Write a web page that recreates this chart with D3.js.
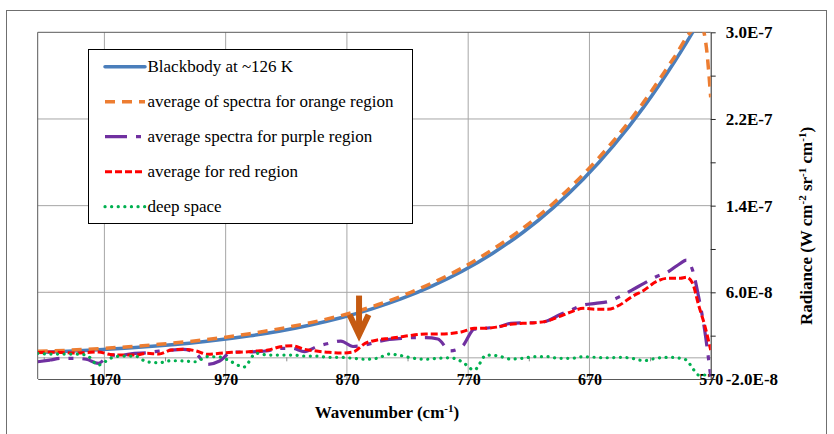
<!DOCTYPE html>
<html>
<head>
<meta charset="utf-8">
<script src="https://cdn.jsdelivr.net/npm/d3@7"></script>
</head>
<body style="margin:0">
<script>
// all radiance values below are in units of 1e-9 W cm-2 sr-1 cm-1
var UNIT = 1e-9;

// blackbody curve
var bbWave = [1125, 1100, 1075, 1050, 1025, 1000, 975, 950, 925, 900, 875, 850, 825, 800, 775, 750, 725, 700, 675, 650, 625, 600, 590, 585];
var blackbody = [4.47, 5.56, 6.91, 8.56, 10.59, 13.08, 16.14, 19.85, 24.37, 29.88, 36.52, 44.55, 54.17, 65.75, 79.5, 95.9, 115.2, 138.0, 164.6, 195.7, 231.4, 272.6, 290.5, 299.8];

// orange region average
var orWave = [1125, 1100, 1075, 1050, 1025, 1000, 975, 950, 925, 900, 875, 850, 825, 800, 775, 750, 725, 700, 675, 650, 625, 600, 585, 578, 574, 570];
var orange = [5.5, 6.5, 8.0, 9.8, 12.0, 14.6, 17.8, 21.8, 26.5, 32.0, 38.5, 46.5, 56.5, 68.5, 82.5, 99.5, 119, 142, 169, 200, 236, 277, 302, 306, 290, 240];

// purple, red and deep space share one wavenumber grid
var lowWave = [1125, 1115, 1105, 1095, 1085, 1075, 1065, 1055, 1045, 1035, 1025, 1015, 1005, 995, 985, 975, 965, 955, 945, 935,
               925, 915, 905, 895, 885, 875, 865, 855, 845, 835, 825, 815, 805, 795, 785, 775, 765, 755, 745, 735,
               725, 715, 705, 695, 685, 675, 665, 655, 645, 635, 625, 615, 605, 595, 590, 585, 580, 575, 570];
var purple = [-4.1, -2.5, -0.9, -0.9, -1.8, -5.5, 2.1, 2.1, 3.7, 4.2, 5.8, 6.7, 7.4, 4.0, -6.5, -3.4, 4.9, 4.9, 5.2, 6.1,
              8.3, 8.3, 5.2, 9.8, 12.9, 15.0, 10.0, 11.4, 14.4, 16.6, 17.5, 18.1, 18.1, 16.9, 6.0, 10.0, 26.0, 27.0, 28.2, 31.4,
              31.9, 31.9, 33.5, 39.0, 43.7, 48.3, 49.8, 51.3, 56.0, 62.0, 68.3, 74.4, 79.0, 86.8, 89.8, 80.6, 56.0, 25.2, -18.0];
var red = [4.4, 4.9, 4.4, 4.0, 4.4, 4.9, 2.6, 2.1, 2.1, 3.7, 3.0, 6.7, 7.4, 6.1, 2.8, 3.7, 4.6, 4.9, 5.8, 6.7,
           9.8, 10.7, 7.4, 5.8, 4.6, 4.0, 4.9, 12.9, 16.0, 17.5, 19.0, 20.6, 21.5, 21.5, 22.0, 23.6, 26.8, 26.8, 28.2, 30.5,
           31.4, 31.9, 33.5, 37.5, 42.0, 45.2, 44.3, 44.3, 48.3, 56.0, 62.0, 69.8, 73.0, 73.0, 74.0, 68.5, 48.3, 29.8, 6.7];
var deepSpace = [3.7, 3.0, 3.0, 3.0, 2.1, -7.1, -0.9, 1.2, 1.2, -4.1, -5.0, -3.1, -3.4, -4.1, 0.6, 0.3, -4.3, -9.0, 3.7, 2.1,
                 2.1, 2.1, 1.2, 1.2, 0, 0, -0.9, -1.8, -0.9, 3.0, 1.5, -0.9, -1.8, -0.9, -0.4, -4.1, -11.7, 2.1, 1.2, -1.6,
                 -0.9, 0.6, 0.6, -0.9, -0.9, 0.6, 0, -0.4, 0, -0.9, -3.1, -0.9, 0, -0.9, -2.5, -10.0, -16.3, -16.3, -18.0];

// axis ticks
var waveTicks = [1070, 970, 870, 770, 670, 570];
var zeroTicks = [1120, 1020, 920, 820, 720, 620];
var radTicks = [-2e-8, 6e-8, 1.4e-7, 2.2e-7, 3e-7];
var radMinor = [2e-8, 1e-7, 1.8e-7, 2.6e-7];

// arrow pointing at the dip near 860 cm-1
var arrowWave = 860;
var arrowTop = 57;
var arrowTip = 19;

// layout
var width = 834, height = 434;
var plot = { left: 37.7, right: 710.7, top: 32.3, bottom: 379 };
var FONT = "'Liberation Serif'";

var svg = d3.select("body").append("svg")
    .attr("width", width)
    .attr("height", height);

// outer chart frame
svg.append("rect")
    .attr("x", 6.5).attr("y", 10.5)
    .attr("width", 820).attr("height", 440)
    .attr("fill", "none")
    .attr("stroke", "#6f6f6f");

var x = d3.scaleLinear().domain([1125, 570]).range([plot.left, plot.right]);
var y = d3.scaleLinear().domain([-2e-8, 3e-7]).range([plot.bottom, plot.top]);

// gridlines
svg.append("g").selectAll("line")
    .data(waveTicks.slice(0, -1))
    .enter().append("line")
    .attr("x1", d => x(d)).attr("x2", d => x(d))
    .attr("y1", plot.top).attr("y2", plot.bottom)
    .attr("stroke", "#a6a6a6").attr("stroke-width", 1);

svg.append("g").selectAll("line")
    .data([6e-8, 1.4e-7, 2.2e-7])
    .enter().append("line")
    .attr("x1", plot.left).attr("x2", plot.right)
    .attr("y1", d => y(d)).attr("y2", d => y(d))
    .attr("stroke", "#a6a6a6").attr("stroke-width", 1);

// horizontal axis line at zero
var zeroAxis = svg.append("g")
    .attr("transform", "translate(0," + y(0) + ")")
    .call(d3.axisBottom(x).tickValues(zeroTicks).tickSize(4).tickSizeOuter(0).tickFormat(""));
zeroAxis.select(".domain").attr("stroke", "#a6a6a6");
zeroAxis.selectAll(".tick line").attr("stroke", "#8c8c8c");

// plot border (top and left)
svg.append("line")
    .attr("x1", plot.left).attr("x2", plot.right)
    .attr("y1", plot.top).attr("y2", plot.top)
    .attr("stroke", "#595959");
svg.append("line")
    .attr("x1", plot.left).attr("x2", plot.left)
    .attr("y1", plot.top).attr("y2", plot.bottom)
    .attr("stroke", "#595959");

// bottom axis with wavenumber labels
var xAxis = svg.append("g")
    .attr("transform", "translate(0," + plot.bottom + ")")
    .call(d3.axisBottom(x).tickValues(waveTicks).tickSize(0).tickSizeOuter(0).tickPadding(-5).tickFormat(d3.format("d")));
xAxis.style("font-family", FONT);
xAxis.select(".domain").attr("stroke", "#595959");
xAxis.selectAll("text")
    .style("font-family", FONT)
    .attr("font-size", "16px")
    .attr("font-weight", "bold")
    .attr("fill", "#000");

// right axis
var fmt = function(d) { return d.toExponential(1).toUpperCase(); };
var yAxis = svg.append("g")
    .attr("transform", "translate(" + plot.right + ",0)")
    .call(d3.axisRight(y).tickValues(radTicks).tickSize(5).tickSizeOuter(0).tickPadding(10).tickFormat(fmt));
yAxis.style("font-family", FONT);
yAxis.select(".domain").attr("stroke", "#262626");
yAxis.selectAll(".tick line").attr("stroke", "#262626");
yAxis.selectAll("text")
    .style("font-family", FONT)
    .attr("font-size", "17px")
    .attr("font-weight", "bold")
    .attr("fill", "#000");

var yMinor = svg.append("g")
    .attr("transform", "translate(" + plot.right + ",0)")
    .call(d3.axisRight(y).tickValues(radMinor).tickSize(5).tickSizeOuter(0).tickFormat(""));
yMinor.select(".domain").remove();
yMinor.selectAll(".tick line").attr("stroke", "#262626");

// axis titles
var xTitle = svg.append("text")
    .style("font-family", FONT)
    .attr("x", 387).attr("y", 418)
    .attr("text-anchor", "middle")
    .attr("font-size", "17px")
    .attr("font-weight", "bold");
xTitle.append("tspan").text("Wavenumber (cm");
xTitle.append("tspan").attr("font-size", "11px").attr("dy", "-6").text("-1");
xTitle.append("tspan").attr("dy", "6").text(")");

var yTitle = svg.append("text")
    .style("font-family", FONT)
    .attr("transform", "translate(812,226) rotate(-90)")
    .attr("text-anchor", "middle")
    .attr("font-size", "17px")
    .attr("font-weight", "bold");
yTitle.append("tspan").text("Radiance (W cm");
yTitle.append("tspan").attr("font-size", "11px").attr("dy", "-6").text("-2");
yTitle.append("tspan").attr("dy", "6").text(" sr");
yTitle.append("tspan").attr("font-size", "11px").attr("dy", "-6").text("-1");
yTitle.append("tspan").attr("dy", "6").text(" cm");
yTitle.append("tspan").attr("font-size", "11px").attr("dy", "-6").text("-1");
yTitle.append("tspan").attr("dy", "6").text(")");

// clip series to the plot area
svg.append("clipPath").attr("id", "plotClip")
    .append("rect")
    .attr("x", plot.left).attr("y", plot.top)
    .attr("width", plot.right - plot.left)
    .attr("height", plot.bottom - plot.top);

var line = d3.line()
    .x(d => x(d[0]))
    .y(d => y(d[1] * UNIT))
    .curve(d3.curveMonotoneX);

function pairs(waves, vals) {
    return waves.map(function(w, i) { return [w, vals[i]]; });
}

var series = [
    { name: "Blackbody at ~126 K", data: pairs(bbWave, blackbody), color: "#4a7ebb", width: 3.5, dash: null, cap: "round" },
    { name: "average of spectra for orange region", data: pairs(orWave, orange), color: "#ed7d31", width: 3.5, dash: "10,7", cap: "butt" },
    { name: "average spectra for purple region", data: pairs(lowWave, purple), color: "#7030a0", width: 3.2, dash: "22,9,5,9", cap: "butt" },
    { name: "average for red region", data: pairs(lowWave, red), color: "#ff0000", width: 3, dash: "7,3", cap: "butt" },
    { name: "deep space", data: pairs(lowWave, deepSpace), color: "#00b050", width: 3.2, dash: "0.1,6.5", cap: "round" }
];

var lines = svg.append("g").attr("clip-path", "url(#plotClip)");
series.forEach(function(s) {
    lines.append("path")
        .datum(s.data)
        .attr("d", line)
        .attr("fill", "none")
        .attr("stroke", s.color)
        .attr("stroke-width", s.width)
        .attr("stroke-dasharray", s.dash)
        .attr("stroke-linecap", s.cap)
        .attr("stroke-linejoin", "round");
});

// arrow annotation
var ax = x(arrowWave), ay0 = y(arrowTop * UNIT), ay1 = y(arrowTip * UNIT);
svg.append("line")
    .attr("x1", ax).attr("x2", ax)
    .attr("y1", ay0).attr("y2", ay1 - 4)
    .attr("stroke", "#c55a11").attr("stroke-width", 6);
svg.append("path")
    .attr("d", "M" + (ax - 9.5) + "," + (ay1 - 22) + "L" + ax + "," + (ay1 - 2) + "L" + (ax + 9.5) + "," + (ay1 - 22))
    .attr("fill", "none")
    .attr("stroke", "#c55a11").attr("stroke-width", 6)
    .attr("stroke-linejoin", "miter");

// legend
var legend = svg.append("g");
legend.append("rect")
    .attr("x", 88.5).attr("y", 49.5)
    .attr("width", 324).attr("height", 174)
    .attr("fill", "#fff")
    .attr("stroke", "#000");

series.forEach(function(s, i) {
    var ly = 66.7 + i * 35;
    legend.append("line")
        .attr("x1", 105).attr("x2", 145)
        .attr("y1", ly).attr("y2", ly)
        .attr("stroke", s.color)
        .attr("stroke-width", s.width)
        .attr("stroke-dasharray", s.dash)
        .attr("stroke-linecap", s.cap);
    legend.append("text")
        .style("font-family", FONT)
        .attr("x", 147.5).attr("y", ly + 5.5)
        .attr("font-size", "17px")
        .text(s.name);
});
</script>
</body>
</html>
